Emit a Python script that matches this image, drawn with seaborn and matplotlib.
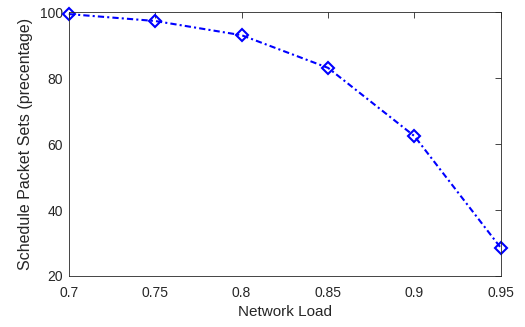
import matplotlib
matplotlib.use("Agg")
import matplotlib.pyplot as plt
import seaborn as sns
import pandas as pd

# values
network_load = [0.7, 0.75, 0.8, 0.85, 0.9, 0.95]
schedule_pct = [99.4, 97.3, 93.0, 83.1, 62.4, 28.5]
x_ticks = [0.7, 0.75, 0.8, 0.85, 0.9, 0.95]
x_tick_labels = ["0.7", "0.75", "0.8", "0.85", "0.9", "0.95"]
y_ticks = [20, 40, 60, 80, 100]

df = pd.DataFrame({"load": network_load, "pct": schedule_pct})

sns.set_style("white")
plt.rcParams["font.family"] = ["Liberation Sans", "DejaVu Sans"]

fig = plt.figure(figsize=(5.25, 3.27), dpi=100)
ax = fig.add_axes([0.131, 0.156, 0.823, 0.807])

sns.lineplot(data=df, x="load", y="pct", ax=ax, color="#0000ff",
             linewidth=1.5, linestyle=(0, (3, 1.5, 1, 1.5)),
             marker="D", markersize=6.5,
             markerfacecolor="none", markeredgecolor="#0000ff",
             markeredgewidth=1.5, clip_on=False)

ax.set_xlim(0.7, 0.95)
ax.set_ylim(20, 100)
ax.set_xticks(x_ticks)
ax.set_xticklabels(x_tick_labels)
ax.set_yticks(y_ticks)
ax.tick_params(direction="in", length=4, width=0.6, colors="#262626",
               labelsize=10, top=True, right=True)
ax.tick_params(axis="x", pad=7)
ax.tick_params(axis="y", pad=4)
for s in ax.spines.values():
    s.set_color("#262626")
    s.set_linewidth(0.6)

ax.set_xlabel("Network Load", fontsize=11, color="#262626", labelpad=4)
ax.set_ylabel("Schedule Packet Sets (precentage)", fontsize=11.5, color="#262626", labelpad=5)

fig.savefig("out.png", dpi=100)
